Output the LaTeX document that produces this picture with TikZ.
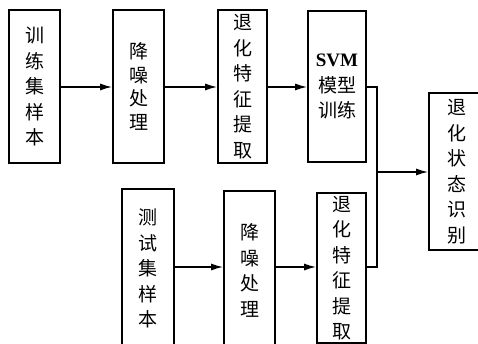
\documentclass[tikz,border=0pt]{standalone}
\usepackage{fontspec}
\newfontfamily\cjk{Noto Sans CJK SC}
\newfontfamily\lat{Liberation Serif}
\usetikzlibrary{arrows.meta}
\tikzset{
  box/.style={draw, line width=1.6pt, inner sep=0pt, align=center,
    font=\cjk\fontsize{19}{25.5}\selectfont},
  conn/.style={line width=1.6pt},
  arr/.style={conn, -{Latex[length=12pt,width=7pt]}}
}
\begin{document}
\begin{tikzpicture}[x=1pt,y=-1pt]
\useasboundingbox (0,0) rectangle (478,344);
\clip (0,0) rectangle (478,344);
\fill[white] (0,0) rectangle (478,344);
\node[box, minimum width=51, minimum height=153] (b1) at (34.5,86.5) {训\\练\\集\\样\\本};
\node[box, minimum width=51, minimum height=153] (b2) at (138.5,86.5) {\raisebox{-5pt}{降}\\[-2pt]\raisebox{-5pt}{噪}\\[-2pt]\raisebox{-5pt}{处}\\[-2pt]\raisebox{-5pt}{理}};
\node[box, minimum width=49, minimum height=153] (b3) at (242.5,86.5) {退\\化\\特\\征\\提\\取};
\node[box, minimum width=58, minimum height=151] (b4) at (337,86.5) {{\lat\bfseries SVM}\\模型\\训练};
\node[box, minimum width=56, minimum height=157] (b5) at (457,171.5) {退\\化\\状\\态\\识\\别};
\node[box, minimum width=52, minimum height=159] (b6) at (148,268.5) {测\\试\\集\\样\\本};
\node[box, minimum width=51, minimum height=159] (b7) at (249.5,270.5) {降\\噪\\处\\理};
\node[box, minimum width=49, minimum height=150] (b8) at (341.5,268) {退\\化\\特\\征\\提\\取};
\coordinate (j1) at (377,87);
\coordinate (j2) at (377,267);
\coordinate (j) at (377,172);
\draw[arr] (b1.east |- 0,87) -- (b2.west |- 0,87);
\draw[arr] (b2.east |- 0,87) -- (b3.west |- 0,87);
\draw[arr] (b3.east |- 0,87) -- (b4.west |- 0,87);
\draw[arr] (b6.east |- 0,267) -- (b7.west |- 0,267);
\draw[arr] (b7.east |- 0,267) -- (b8.west |- 0,267);
\draw[conn] (b4.east |- j1) -- (j1) -- (j2) -- (b8.east |- j2);
\draw[arr] (j) -- (b5.west |- j);
\end{tikzpicture}
\end{document}
